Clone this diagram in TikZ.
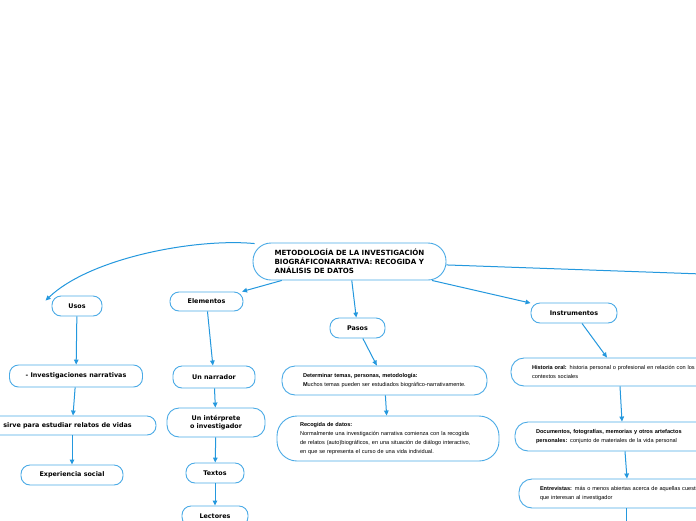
\documentclass[tikz,border=0pt]{standalone}
\usepackage{fontspec}
\setmainfont{DejaVu Sans}
\newfontfamily\smallfont{Liberation Sans}
\usetikzlibrary{arrows.meta}
\definecolor{bord}{RGB}{74,170,230}
\definecolor{arr}{RGB}{36,152,222}
\begin{document}
\begin{tikzpicture}[x=1pt,y=-1pt,
  box/.style={draw=bord, line width=0.9pt, rounded corners=9pt, fill=white,
    font=\bfseries\fontsize{6.4}{8.5}\selectfont, inner sep=0pt, align=center},
  note/.style={draw=bord, line width=0.9pt, rounded corners=13pt, fill=white,
    font=\smallfont\fontsize{5.6}{8.7}\selectfont, align=left, inner xsep=21pt, inner ysep=0pt},
  link/.style={draw=arr, line width=1pt, -{Triangle[length=5pt,width=4.5pt]}}]
\clip (0,0) rectangle (696,520);
\fill[white] (0,0) rectangle (696,520);

\node[box, minimum width=193pt, minimum height=37pt, rounded corners=18pt, align=left,
  font=\bfseries\fontsize{7.1}{9}\selectfont] (main) at (349.5,261.5)
  {METODOLOGÍA DE LA INVESTIGACIÓN\\BIOGRÁFICONARRATIVA: RECOGIDA Y\\ANÁLISIS DE DATOS};

% left column
\node[box, minimum width=50pt, minimum height=20pt] (usos) at (77,306) {Usos};
\node[box, minimum width=133pt, minimum height=22pt] (inv) at (76,376) {- Investigaciones narrativas};
\node[box, minimum width=177pt, minimum height=19pt] (sirve) at (67.5,425.5) {sirve para estudiar relatos de vidas};
\node[box, minimum width=102pt, minimum height=20pt] (exp) at (72,475) {Experiencia social};

% second column
\node[box, minimum width=73pt, minimum height=19pt] (elem) at (206.5,301.5) {Elementos};
\node[box, minimum width=82pt, minimum height=22pt] (narr) at (214,377) {Un narrador};
\node[box, minimum width=98pt, minimum height=29pt, rounded corners=12pt] (interp) at (216,422.5) {Un intérprete\\o investigador};
\node[box, minimum width=58pt, minimum height=20pt] (textos) at (215,473) {Textos};
\node[box, minimum width=66pt, minimum height=20pt] (lect) at (215,516) {Lectores};

% third column
\node[box, minimum width=55pt, minimum height=20pt] (pasos) at (357.5,328) {Pasos};
\node[note, text width=163pt, minimum height=29pt] (det) at (384.5,380.5)
  {\textbf{Determinar temas, personas, metodología:}\\\textbf{M}uchos temas pueden ser estudiados biográfico-narrativamente.};
\node[note, text width=176pt, inner xsep=23pt, minimum height=45pt, rounded corners=20pt] (rec) at (388,438.5)
  {\textbf{Recogida de datos:}\\Normalmente una investigación narrativa comienza con la recogida\\de relatos (auto)biográficos, en una situación de diálogo interactivo,\\en que se representa el curso de una vida individual.};

% fourth column
\node[box, minimum width=86pt, minimum height=20pt] (instr) at (574,313) {Instrumentos};
\node[note, text width=190pt, minimum height=28pt] (hist) at (627,372)
  {\textbf{Historia oral:} historia personal o profesional en relación con los\\contextos sociales};
\node[note, text width=190pt, minimum height=29pt] (doc) at (631,436.5)
  {\textbf{Documentos, fotografías, memorias y otros artefactos}\\\textbf{personales:} conjunto de materiales de la vida personal};
\node[note, text width=200pt, minimum height=29pt] (entr) at (640,493.5)
  {\textbf{Entrevistas:} más o menos abiertas acerca de aquellas cuestiones\\que interesan al investigador};

\coordinate (offright) at (900,281);
\coordinate (offdown) at (626,560);

% connectors
\draw[link] ([xshift=2pt,yshift=-1pt]main.north west) .. controls (195,238) and (90,258) .. ([xshift=-6pt,yshift=-5pt]usos.north west);
\draw[link] (main) -- (elem);
\draw[link] (main) -- (pasos);
\draw[link] (main) -- (instr);
\draw[link] (main) -- (offright);

\draw[link] (usos) -- (inv);
\draw[link] (inv) -- ([xshift=5.5pt]sirve.north);
\draw[link] ([xshift=4.5pt]sirve.south) -- (exp);

\draw[link] (elem) -- (narr);
\draw[link] (narr) -- (interp);
\draw[link] (interp) -- (textos);
\draw[link] (textos) -- (lect);

\draw[link] (pasos) -- (det);
\draw[link] (det) -- (rec);

\draw[link] ([xshift=8pt]instr.south) -- ([xshift=-20pt]hist.north);
\draw[link] ([xshift=-7pt]hist.south) -- ([xshift=-9pt]doc.north);
\draw[link] ([xshift=-6pt]doc.south) -- ([xshift=-13pt]entr.north);
\draw[link] ([xshift=-14pt]entr.south) -- (offdown);
\end{tikzpicture}
\end{document}
